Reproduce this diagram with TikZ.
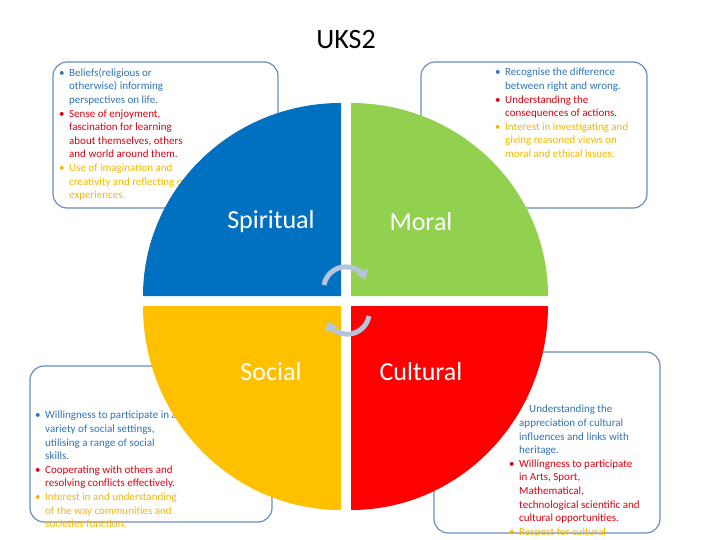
\documentclass[tikz,border=0pt]{standalone}
\usepackage{fontspec}
\setmainfont{Carlito}
\usetikzlibrary{arrows.meta}
\definecolor{qblue}{HTML}{0070C0}
\definecolor{qgreen}{HTML}{92D050}
\definecolor{qyellow}{HTML}{FFC000}
\definecolor{qred}{HTML}{FF0000}
\definecolor{tblue}{HTML}{2F74B5}
\definecolor{tred}{HTML}{E00010}
\definecolor{tyel}{HTML}{F5B800}
\definecolor{bord}{HTML}{6A8DC2}
\definecolor{arr}{HTML}{B4C4DC}
\newcommand{\bitem}[2]{\par\noindent\hangindent=10pt\hangafter=1\textcolor{#1}{\makebox[10pt][l]{\textbullet}#2}}
\newcommand{\nbitem}[2]{\par\noindent\hangindent=10pt\hangafter=0\hspace*{10pt}\textcolor{#1}{#2}}
\tikzset{
 infobox/.style={draw=bord,line width=1.2pt,rounded corners=14pt,fill=white},
 infotext/.style={anchor=north west,inner sep=0pt,font=\fontsize{11}{13.6}\selectfont,align=left},
 quadlabel/.style={text=white,font=\fontsize{26}{30}\selectfont},
 cycarrow/.style={draw=arr,line width=5pt,-{Triangle[length=9pt,width=13pt]}}
}
\begin{document}
\begin{tikzpicture}[x=1pt,y=-1pt]
\useasboundingbox (0,0) rectangle (720,540);
\node[font=\fontsize{28}{32}\selectfont] (title) at (346,40) {UKS2};
% boxes
\draw[infobox] (53,62) rectangle (278,208);
\draw[infobox] (421,62) rectangle (647,208);
\draw[infobox] (30,366) rectangle (272,522);
\draw[infobox] (434,352) rectangle (660,533);
% texts
\node[infotext] (tl) at (59,68) {\parbox{150pt}{%
\bitem{tblue}{Beliefs(religious or\\otherwise) informing\\perspectives on life.}
\bitem{tred}{Sense of enjoyment,\\fascination for learning\\about themselves, others\\and world around them.}
\bitem{tyel}{Use of imagination and\\creativity and reflecting on\\experiences.}}};
\node[infotext] (tr) at (495,68) {\parbox{150pt}{%
\bitem{tblue}{Recognise the difference\\between right and wrong.}
\bitem{tred}{Understanding the\\consequences of actions.}
\bitem{tyel}{Interest in investigating and\\giving reasoned views on\\moral and ethical issues.}}};
\node[infotext] (bl) at (35,411) {\parbox{170pt}{%
\bitem{tblue}{Willingness to participate in a\\variety of social settings,\\utilising a range of social\\skills.}
\bitem{tred}{Cooperating with others and\\resolving conflicts effectively.}
\bitem{tyel}{Interest in and understanding\\of the way communities and\\societies function.}}};
\node[infotext] (br) at (509,405) {\parbox{150pt}{%
\nbitem{tblue}{Understanding the\\appreciation of cultural\\influences and links with\\heritage.}
\bitem{tred}{Willingness to participate\\in Arts, Sport,\\Mathematical,\\technological scientific and\\cultural opportunities.}
\bitem{tyel}{Respect for cultural}}};
% circle quadrants
\fill[qblue] (341,296) -- (143,296) arc[start angle=180,end angle=270,x radius=198,y radius=193] -- cycle;
\fill[qgreen] (351,296) -- (351,103) arc[start angle=270,end angle=360,x radius=197,y radius=193] -- cycle;
\fill[qyellow] (341,306) -- (143,306) arc[start angle=180,end angle=90,x radius=198,y radius=204] -- cycle;
\fill[qred] (351,306) -- (351,510) arc[start angle=90,end angle=0,x radius=197,y radius=204] -- cycle;
\node[quadlabel] (sp) at (271,222) {Spiritual};
\node[quadlabel] (mo) at (421,222) {Moral};
\node[quadlabel] (so) at (271,372) {Social};
\node[quadlabel] (cu) at (421,372) {Cultural};
% cycle arrows
\draw[cycarrow] (324,285) arc[start angle=190,end angle=335,radius=22];
\draw[cycarrow] (369,316) arc[start angle=10,end angle=155,radius=22];
\end{tikzpicture}
\end{document}
